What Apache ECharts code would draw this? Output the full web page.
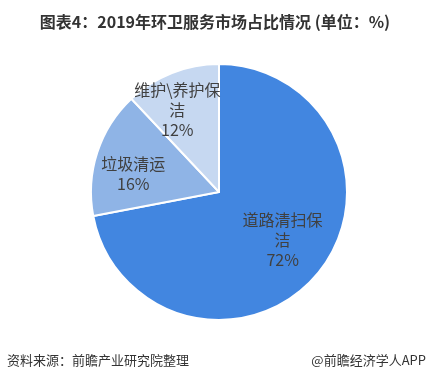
<!DOCTYPE html>
<html><head><meta charset="utf-8">
<script src="https://cdn.jsdelivr.net/npm/echarts@6/dist/echarts.min.js"></script>
<style>html,body{margin:0;padding:0;background:#fff}#c{width:430px;height:383px}</style>
</head><body><div id="c"></div>
<script>
var titleText = '图表4：2019年环卫服务市场占比情况 (单位：%)';
var categories = ['道路清扫保\n洁', '垃圾清运', '维护\\养护保\n洁'];
var values = [72, 16, 12];
var colors = ['#4286e0', '#8fb4e6', '#c6d8f1'];
var labelOffsets = [[12, 5], [-22, 3], [-17, -20]];
var sourceText = '资料来源：前瞻产业研究院整理';
var brandText = '@前瞻经济学人APP';

var chart = echarts.init(document.getElementById('c'));
chart.setOption({
  animation: false,
  title: [{
    text: titleText, left: 'center', top: 9,
    textStyle: {fontFamily: 'Noto Sans CJK SC', fontSize: 16, fontWeight: 'bold', color: '#333'}
  }],
  graphic: [
    {type: 'text', left: 7, top: 354, style: {text: sourceText, font: '13px "Noto Sans CJK SC"', fill: '#333'}},
    {type: 'text', right: 4, top: 354, style: {text: brandText, font: '13px "Noto Sans CJK SC"', fill: '#333'}}
  ],
  series: [{
    type: 'pie',
    center: [219, 192],
    radius: [0, 128],
    startAngle: 90,
    clockwise: true,
    itemStyle: {borderColor: '#fff', borderWidth: 2},
    label: {
      position: 'inside',
      formatter: '{b}\n{d}%',
      fontFamily: 'Noto Sans CJK SC',
      fontSize: 16,
      lineHeight: 20,
      color: '#404040'
    },
    labelLine: {show: false},
    data: values.map(function (v, i) {
      return {name: categories[i], value: v, itemStyle: {color: colors[i]},
              label: {offset: labelOffsets[i]}};
    })
  }]
});
</script></body></html>
